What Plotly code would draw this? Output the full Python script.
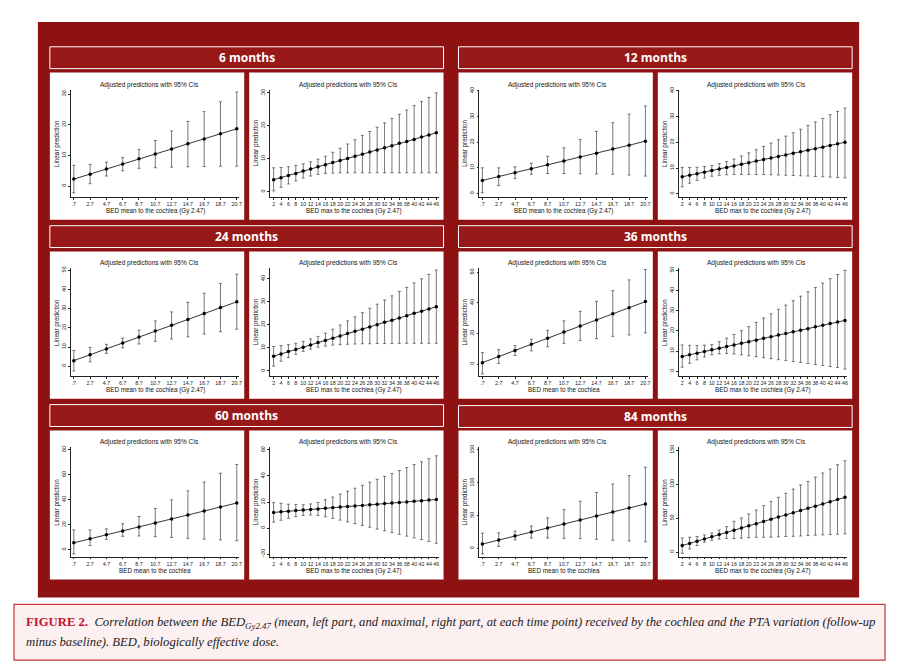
import plotly.graph_objects as go

# page body has an 8px margin: the figure is drawn from (8, 8)
OFF = 8
W, H = 901 - OFF, 669 - OFF
def fx(x): return (x - OFF) / W
def fy(y): return 1 - (y - OFF) / H

# ---------------- data ----------------
mean_x = [0.7, 2.7, 4.7, 6.7, 8.7, 10.7, 12.7, 14.7, 16.7, 18.7, 20.7]
mean_labels = [".7", "2.7", "4.7", "6.7", "8.7", "10.7", "12.7", "14.7", "16.7", "18.7", "20.7"]
max_x = [2, 4, 6, 8, 10, 12, 14, 16, 18, 20, 22, 24, 26, 28, 30, 32, 34, 36, 38, 40, 42, 44, 46]
max_labels = [str(v) for v in max_x]

m6_mean_pred = [2.3, 3.9, 5.6, 7.2, 8.9, 10.5, 12.1, 13.8, 15.4, 17.1, 18.7]
m6_mean_lo = [-2.2, 0.8, 3.3, 5.0, 5.8, 6.0, 6.2, 6.3, 6.4, 6.5, 6.5]
m6_mean_hi = [6.8, 7.1, 7.8, 9.3, 12.0, 14.9, 18.0, 21.1, 24.3, 27.5, 30.7]

m6_max_pred = [3.7, 4.3, 5.0, 5.6, 6.3, 6.9, 7.6, 8.2, 8.9, 9.5, 10.1, 10.8, 11.4, 12.1, 12.7, 13.4, 14.0, 14.7, 15.3, 15.9, 16.6, 17.2, 17.9]
m6_max_lo = [0.3, 1.4, 2.4, 3.3, 4.2, 4.8, 5.3, 5.6, 5.7, 5.8, 5.8, 5.8, 5.8, 5.8, 5.8, 5.8, 5.8, 5.8, 5.8, 5.8, 5.8, 5.8, 5.8]
m6_max_hi = [7.3, 7.4, 7.6, 8.0, 8.5, 9.1, 9.9, 10.8, 12.0, 13.2, 14.5, 15.8, 17.1, 18.3, 19.6, 20.9, 22.2, 23.5, 24.8, 26.1, 27.4, 28.6, 30.0]

m12_mean_pred = [5.1, 6.6, 8.1, 9.6, 11.2, 12.7, 14.2, 15.7, 17.3, 18.8, 20.4]
m12_mean_lo = [0.3, 3.1, 5.8, 7.5, 7.8, 7.8, 7.7, 7.6, 7.5, 7.2, 6.8]
m12_mean_hi = [10.0, 10.0, 10.4, 11.8, 14.5, 17.8, 21.0, 24.2, 27.6, 30.9, 34.1]

m12_max_pred = [6.6, 7.2, 7.8, 8.4, 9.0, 9.6, 10.2, 10.8, 11.5, 12.1, 12.7, 13.3, 13.9, 14.5, 15.1, 15.7, 16.3, 16.9, 17.5, 18.1, 18.8, 19.4, 20.0]
m12_max_lo = [2.7, 4.1, 5.2, 6.1, 6.8, 7.2, 7.4, 7.5, 7.5, 7.5, 7.5, 7.5, 7.4, 7.3, 7.2, 7.1, 7.0, 6.9, 6.7, 6.6, 6.5, 6.3, 6.2]
m12_max_hi = [10.2, 10.2, 10.3, 10.6, 11.0, 11.7, 12.5, 13.5, 14.7, 15.9, 17.1, 18.4, 19.7, 21.0, 22.4, 23.7, 25.1, 26.5, 27.9, 29.3, 30.7, 32.0, 33.3]

m24_mean_pred = [2.9, 6.0, 9.0, 12.1, 15.2, 18.3, 21.3, 24.4, 27.5, 30.6, 33.6]
m24_mean_lo = [-2.5, 2.3, 6.7, 9.6, 11.6, 13.0, 14.2, 15.3, 16.8, 18.0, 19.3]
m24_mean_hi = [8.2, 9.8, 11.4, 14.6, 18.8, 23.6, 28.3, 33.3, 38.1, 43.1, 48.0]

m24_max_pred = [6.4, 7.4, 8.4, 9.3, 10.3, 11.3, 12.3, 13.2, 14.2, 15.2, 16.2, 17.2, 18.1, 19.1, 20.1, 21.1, 22.0, 23.0, 24.0, 25.0, 25.9, 26.9, 27.9]
m24_max_lo = [2.1, 4.2, 5.8, 7.2, 8.5, 9.5, 10.3, 10.8, 11.2, 11.4, 11.6, 11.7, 11.8, 11.8, 11.9, 11.9, 11.9, 12.0, 12.0, 12.0, 12.0, 12.0, 12.0]
m24_max_hi = [10.6, 11.0, 11.4, 12.0, 12.8, 13.9, 15.0, 16.4, 18.1, 19.9, 21.7, 23.5, 25.3, 27.2, 29.0, 30.8, 32.6, 34.5, 36.3, 38.2, 40.0, 41.9, 43.8]

m36_mean_pred = [0.9, 4.9, 8.9, 12.9, 16.9, 20.9, 24.8, 28.8, 32.8, 36.8, 40.8]
m36_mean_lo = [-6.5, 0.4, 5.6, 8.6, 11.3, 13.5, 15.4, 16.6, 18.1, 19.0, 20.3]
m36_mean_hi = [7.5, 9.4, 12.0, 16.2, 22.0, 28.2, 34.4, 41.0, 48.0, 55.0, 61.8]

m36_max_pred = [7.3, 8.1, 8.9, 9.7, 10.6, 11.4, 12.2, 13.0, 13.8, 14.6, 15.4, 16.3, 17.1, 17.9, 18.7, 19.5, 20.3, 21.1, 22.0, 22.8, 23.6, 24.4, 25.2]
m36_max_lo = [2.0, 3.9, 5.6, 7.0, 8.1, 8.6, 8.8, 8.5, 8.1, 7.6, 7.2, 6.7, 6.2, 5.7, 5.3, 4.8, 4.3, 3.8, 3.3, 2.8, 2.3, 1.8, 1.0]
m36_max_hi = [13.0, 12.8, 12.7, 12.9, 13.3, 14.6, 16.4, 18.2, 20.1, 22.1, 24.2, 26.4, 28.5, 30.7, 32.8, 35.0, 37.2, 39.4, 41.5, 43.7, 45.9, 48.0, 50.0]

m60_mean_pred = [5.7, 8.9, 12.1, 15.2, 18.4, 21.6, 24.8, 28.0, 31.2, 34.3, 37.5]
m60_mean_lo = [-3.2, 3.5, 8.4, 10.9, 11.2, 10.6, 10.0, 9.3, 8.6, 8.0, 7.4]
m60_mean_hi = [16.0, 16.0, 16.8, 20.9, 26.7, 33.2, 40.0, 47.2, 54.2, 61.3, 68.3]

m60_max_pred = [12.0, 12.5, 12.9, 13.4, 13.8, 14.3, 14.7, 15.2, 15.6, 16.1, 16.5, 17.0, 17.4, 17.9, 18.3, 18.8, 19.2, 19.7, 20.1, 20.6, 21.0, 21.5, 21.9]
m60_max_lo = [4.5, 6.0, 7.5, 8.8, 9.7, 10.1, 9.7, 8.7, 7.4, 6.1, 4.7, 3.4, 2.0, 0.6, -0.8, -2.1, -3.5, -4.8, -6.2, -7.5, -8.9, -10.3, -11.7]
m60_max_hi = [19.5, 19.0, 18.3, 18.0, 17.9, 18.5, 19.7, 21.7, 23.8, 26.1, 28.3, 30.6, 32.8, 35.2, 37.4, 39.7, 41.9, 44.2, 46.4, 48.7, 50.9, 53.3, 55.5]

m84_mean_pred = [6.7, 12.8, 18.9, 25.0, 31.1, 37.2, 43.4, 49.5, 55.6, 61.7, 67.8]
m84_mean_lo = [-8.3, 3.1, 13.0, 15.9, 15.9, 15.5, 15.0, 14.0, 12.6, 11.4, 10.2]
m84_mean_hi = [23.3, 23.8, 26.5, 34.2, 46.6, 59.0, 71.9, 85.4, 98.2, 111.0, 123.8]

m84_max_pred = [9.8, 13.0, 16.2, 19.5, 22.7, 25.9, 29.1, 32.3, 35.5, 38.8, 42.0, 45.2, 48.4, 51.6, 54.8, 58.1, 61.3, 64.5, 67.7, 70.9, 74.2, 77.4, 80.6]
m84_max_lo = [-1.5, 4.9, 9.8, 14.7, 17.5, 19.3, 20.3, 20.2, 20.7, 21.4, 22.0, 22.0, 22.1, 22.7, 23.1, 23.4, 23.9, 24.5, 25.0, 25.5, 26.0, 26.4, 26.9]
m84_max_hi = [21.0, 22.0, 23.0, 25.4, 28.3, 32.7, 37.6, 45.4, 50.3, 56.2, 62.0, 68.4, 74.7, 80.6, 86.5, 92.8, 98.7, 104.0, 110.4, 116.3, 122.1, 128.5, 134.3]

headers = ["6 months", "12 months", "24 months", "36 months", "60 months", "84 months"]
panel_title = "Adjusted predictions with 95% CIs"
y_title = "Linear prediction"
xt_mean_gy = "BED mean to the cochlea (Gy 2.47)"
xt_mean = "BED mean to the cochlea"
xt_max = "BED max to the cochlea (Gy 2.47)"

# ---------------- layout ----------------
RED = "#8e1212"
cols = [(50, 245), (250, 445), (460, 655), (660, 855)]
rows = [(70, 218), (250, 398), (430, 580)]

panels = [
    (0, 0, "mean", m6_mean_pred, m6_mean_lo, m6_mean_hi, [-3.5, 31.5], [0, 10, 20, 30], xt_mean_gy),
    (0, 1, "max", m6_max_pred, m6_max_lo, m6_max_hi, [-1.5, 31], [0, 10, 20, 30], xt_max),
    (0, 2, "mean", m12_mean_pred, m12_mean_lo, m12_mean_hi, [-1.3, 40.5], [0, 10, 20, 30, 40], xt_mean_gy),
    (0, 3, "max", m12_max_pred, m12_max_lo, m12_max_hi, [-1.2, 40.5], [0, 10, 20, 30, 40], xt_max),
    (1, 0, "mean", m24_mean_pred, m24_mean_lo, m24_mean_hi, [-5, 51], [0, 10, 20, 30, 40, 50], xt_mean_gy),
    (1, 1, "max", m24_max_pred, m24_max_lo, m24_max_hi, [-2.1, 44.5], [0, 10, 20, 30, 40], xt_max),
    (1, 2, "mean", m36_mean_pred, m36_mean_lo, m36_mean_hi, [-7.7, 62.5], [0, 20, 40, 60], xt_mean),
    (1, 3, "max", m36_max_pred, m36_max_lo, m36_max_hi, [-2.3, 51], [0, 10, 20, 30, 40, 50], xt_max),
    (2, 0, "mean", m60_mean_pred, m60_mean_lo, m60_mean_hi, [-5.4, 82], [0, 20, 40, 60, 80], xt_mean),
    (2, 1, "max", m60_max_pred, m60_max_lo, m60_max_hi, [-22, 62], [-20, 0, 20, 40, 60], xt_max),
    (2, 2, "mean", m84_mean_pred, m84_mean_lo, m84_mean_hi, [-12.5, 154], [0, 50, 100, 150], xt_mean),
    (2, 3, "max", m84_max_pred, m84_max_lo, m84_max_hi, [-6.5, 154], [0, 50, 100, 150], xt_max),
]

fig = go.Figure()
shapes = []
annotations = []

# outer dark frame
shapes.append(dict(type="rect", xref="paper", yref="paper", x0=fx(38), x1=fx(862), y0=fy(598), y1=fy(19),
                   fillcolor=RED, line=dict(width=0), layer="below"))
# caption box
shapes.append(dict(type="rect", xref="paper", yref="paper", x0=fx(14), x1=fx(888), y0=fy(661), y1=fy(605),
                   fillcolor="#fcf0f0", line=dict(color="#c23a3a", width=1.2), layer="below"))

# headers
hdr_boxes = [(50, 44, 445, 66), (460, 44, 855, 66), (50, 224, 445, 246), (460, 224, 855, 246),
             (50, 404, 445, 426), (460, 405, 855, 427)]
for txt, (x0, y0, x1, y1) in zip(headers, hdr_boxes):
    shapes.append(dict(type="rect", xref="paper", yref="paper", x0=fx(x0), x1=fx(x1), y0=fy(y1), y1=fy(y0),
                       fillcolor="#981818", line=dict(color="white", width=1), layer="below"))
    annotations.append(dict(text="<b>" + txt + "</b>", x=fx((x0 + x1) / 2), y=fy((y0 + y1) / 2),
                            xref="paper", yref="paper", showarrow=False, xanchor="center", yanchor="middle",
                            font=dict(family="Open Sans", size=12, color="white")))

layout_axes = {}
for i, (r, c, kind, pred, lo, hi, yr, yt, xt) in enumerate(panels):
    L, R = cols[c]
    T, B = rows[r]
    shapes.append(dict(type="rect", xref="paper", yref="paper", x0=fx(L), x1=fx(R), y0=fy(B), y1=fy(T),
                       fillcolor="white", line=dict(width=0), layer="below"))
    n = i + 1
    xa = "x" if n == 1 else f"x{n}"
    ya = "y" if n == 1 else f"y{n}"
    left = L + 21
    if kind == "mean":
        xs, labels, xr = mean_x, mean_labels, [0.33, 21.0]
    else:
        xs, labels, xr = max_x, max_labels, [1.05, 46.6]
    plus = [h - p for h, p in zip(hi, pred)]
    minus = [p - l for p, l in zip(pred, lo)]
    fig.add_trace(go.Scatter(
        x=xs, y=pred, mode="lines+markers", xaxis=xa, yaxis=ya, showlegend=False,
        line=dict(color="black", width=0.8),
        marker=dict(color="black", size=3.5, symbol="circle"),
        error_y=dict(type="data", symmetric=False, array=plus, arrayminus=minus,
                     color="#555555", thickness=0.8, width=1.5),
    ))
    tickfont = dict(family="Liberation Sans", size=5.3, color="#222")
    layout_axes["xaxis" if n == 1 else f"xaxis{n}"] = dict(
        domain=[fx(left), fx(R - 5)], anchor=ya, range=xr, tickvals=xs, ticktext=labels,
        showline=True, linecolor="#222", linewidth=0.6, ticks="outside", ticklen=2, tickwidth=0.6,
        tickcolor="#222", showgrid=False, zeroline=False, tickfont=tickfont, tickangle=0)
    layout_axes["yaxis" if n == 1 else f"yaxis{n}"] = dict(
        domain=[fy(B - 23), fy(T + 17)], anchor=xa, range=yr, tickvals=yt,
        showline=True, linecolor="#222", linewidth=0.6, ticks="outside", ticklen=2, tickwidth=0.6,
        tickcolor="#222", showgrid=False, zeroline=False, tickfont=tickfont, tickangle=-90)
    annotations.append(dict(text=panel_title, x=fx((L + R) / 2 + 2), y=fy(T + 12), xref="paper", yref="paper",
                            showarrow=False, xanchor="center", yanchor="middle",
                            font=dict(family="Liberation Sans", size=6.5, color="#111")))
    annotations.append(dict(text=xt, x=fx((left + R - 5) / 2), y=fy(B - 9), xref="paper", yref="paper",
                            showarrow=False, xanchor="center", yanchor="middle",
                            font=dict(family="Liberation Sans", size=6.3, color="#111")))
    annotations.append(dict(text=y_title, x=fx(L + 7), y=fy((T + 17 + B - 23) / 2), xref="paper", yref="paper",
                            showarrow=False, xanchor="center", yanchor="middle", textangle=-90,
                            font=dict(family="Liberation Sans", size=6.3, color="#111")))

# caption
cap1 = ("<b><span style='color:#c8102e'>FIGURE 2.</span></b>  <i>Correlation between the BED<sub>Gy2.47</sub> "
        "(mean, left part, and maximal, right part, at each time point) received by the cochlea and the PTA variation (follow-up</i>")
cap2 = "<i>minus baseline). BED, biologically effective dose.</i>"
annotations.append(dict(text=cap1, x=fx(24), y=fy(624), xref="paper", yref="paper", showarrow=False,
                        xanchor="left", yanchor="middle",
                        font=dict(family="Liberation Serif", size=12.7, color="#222")))
annotations.append(dict(text=cap2, x=fx(24), y=fy(643), xref="paper", yref="paper", showarrow=False,
                        xanchor="left", yanchor="middle",
                        font=dict(family="Liberation Serif", size=12.7, color="#222")))

fig.update_layout(width=W, height=H, margin=dict(l=0, r=0, t=0, b=0),
                  paper_bgcolor="white", plot_bgcolor="rgba(0,0,0,0)",
                  shapes=shapes, annotations=annotations, **layout_axes)
fig.write_html("out.html")
